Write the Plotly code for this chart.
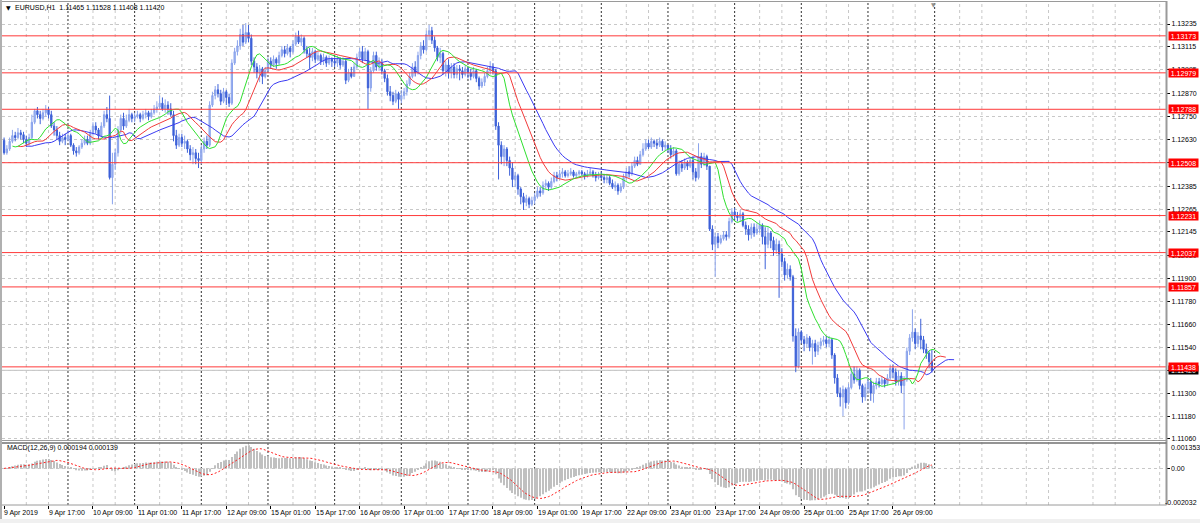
import numpy as np
import plotly.graph_objects as go

# ---------------- data (prices stored as points = 1e-5 above PRICE_BASE) ----------------
SYMBOL = "EURUSD,H1"
PRICE_BASE = 1.11
POINT = 1e-5
FIRST_OPEN_PTS = 1625

close_pts = [
    1560,1580,1620,1650,1640,1665,1655,1630,1610,1640,1720,1780,1760,1740,1770,1785,1760,1700,1680,1650,1620,1640,1630,
    1650,1600,1570,1560,1590,1610,1630,1610,1660,1700,1680,1650,1700,1760,1740,1430,1500,1560,1680,1740,1700,1730,1760,1740,
    1750,1760,1740,1760,1770,1750,1770,1790,1800,1820,1790,1810,1790,1760,1650,1600,1640,1610,1620,1580,1550,1560,1530,1520,
    1580,1620,1600,1810,1860,1890,1870,1830,1880,1850,1820,2030,2090,2120,2180,2140,2190,2160,2040,2010,1980,2000,1960,1990,
    2040,2020,2050,2030,2070,2100,2080,2110,2090,2130,2170,2140,2160,2100,2080,2060,2090,2050,2070,2040,2060,2030,2050,2040,
    2030,2050,2020,2040,1940,1980,1960,2010,2060,2090,2050,2090,1900,1990,2070,2010,2030,1990,1950,1880,1860,1830,1870,1840,
    1860,1880,1920,1960,2010,1980,2070,2120,2100,2180,2200,2150,2110,2060,2080,1990,2020,1980,2010,1970,2000,1990,1970,2000,
    1980,1960,1990,1950,1910,1930,1960,1990,2010,1990,1700,1600,1540,1580,1520,1480,1420,1440,1370,1330,1300,1320,1290,1310,
    1330,1360,1350,1390,1400,1380,1410,1440,1430,1450,1460,1440,1450,1460,1440,1450,1460,1450,1440,1450,1460,1440,1430,1440,
    1430,1420,1430,1400,1380,1390,1360,1380,1430,1460,1450,1490,1520,1500,1550,1580,1610,1590,1620,1610,1600,1620,1590,1600,
    1580,1550,1570,1450,1500,1480,1510,1490,1520,1460,1430,1540,1500,1540,1490,1160,1080,1120,1090,1110,1130,1120,1200,1250,
    1230,1220,1240,1180,1160,1130,1170,1140,1160,1180,1120,1080,1140,1100,1050,1080,1030,990,920,950,910,600,440,620,
    580,560,590,540,560,520,550,570,580,560,580,500,380,300,280,320,250,330,400,370,420,340,280,330,
    360,300,340,360,350,370,350,380,430,410,360,390,340,370,520,590,620,560,600,580,530,510,465,420,
]
high_pts = [
    1640,1600,1640,1680,1670,1690,1680,1670,1650,1660,1760,1790,1800,1780,1790,1810,1800,1780,1720,1700,1670,1660,1660,
    1680,1660,1610,1590,1600,1630,1650,1650,1680,1720,1720,1690,1720,1780,1800,1860,1560,1580,1700,1760,1770,1760,1790,1770,
    1770,1780,1770,1780,1790,1780,1790,1810,1830,1860,1850,1840,1830,1820,1780,1680,1660,1660,1650,1630,1600,1590,1580,1560,
    1600,1640,1650,1830,1880,1910,1920,1890,1900,1890,1870,2050,2110,2150,2210,2230,2240,2230,2180,2060,2030,2020,2010,2010,
    2060,2060,2070,2060,2090,2120,2120,2130,2120,2150,2190,2200,2180,2170,2120,2110,2110,2100,2090,2080,2080,2070,2070,2060,
    2060,2070,2060,2060,2050,2000,2010,2030,2080,2110,2120,2110,2100,2010,2090,2090,2060,2050,2000,1970,1910,1880,1890,1880,
    1890,1900,1940,1980,2030,2040,2090,2140,2150,2200,2230,2220,2170,2120,2110,2090,2040,2050,2030,2030,2020,2020,2010,2020,
    2010,2000,2010,2000,1960,1950,1980,2010,2040,2030,2000,1720,1620,1600,1590,1540,1510,1460,1450,1380,1350,1340,1330,1330,
    1350,1380,1380,1410,1420,1410,1430,1460,1460,1470,1480,1470,1470,1480,1470,1460,1470,1470,1460,1470,1480,1470,1460,1460,
    1460,1450,1450,1440,1420,1410,1400,1400,1450,1480,1490,1510,1540,1540,1570,1610,1630,1630,1640,1630,1630,1640,1630,1620,
    1600,1600,1590,1580,1520,1520,1530,1520,1540,1540,1480,1610,1560,1560,1550,1490,1180,1140,1140,1130,1150,1150,1220,1270,
    1270,1250,1260,1250,1200,1180,1190,1190,1190,1200,1190,1170,1170,1150,1120,1110,1100,1060,1010,980,970,920,640,640,
    630,600,610,600,580,580,570,590,600,600,600,590,510,400,330,340,330,350,430,440,440,430,350,350,
    380,380,360,380,380,390,380,400,450,450,430,420,410,390,540,610,740,640,620,690,600,560,520,528,
]
low_pts = [
    1550,1550,1570,1610,1620,1630,1630,1610,1590,1600,1630,1710,1740,1710,1730,1750,1740,1690,1650,1630,1600,1610,1600,
    1620,1590,1550,1540,1550,1580,1600,1600,1600,1650,1660,1630,1640,1690,1720,1420,1290,1470,1540,1660,1680,1690,1720,1720,
    1720,1740,1720,1730,1740,1730,1740,1760,1770,1790,1780,1770,1760,1750,1620,1580,1590,1590,1580,1560,1520,1500,1500,1480,
    1500,1560,1580,1590,1800,1840,1850,1810,1820,1810,1800,1810,2020,2070,2100,2120,2130,2140,2020,1980,1950,1930,1920,1950,
    1990,2000,2010,2000,2020,2060,2060,2070,2060,2080,2120,2130,2120,2080,2060,2000,2040,2030,2040,2020,2020,2010,2020,2010,
    2010,2010,2000,2010,1920,1930,1950,1960,2000,2050,2030,2040,1790,1880,1980,1990,1990,1970,1930,1860,1830,1810,1820,1790,
    1820,1840,1860,1910,1950,1960,1970,2050,2080,2090,2150,2130,2090,2040,2030,1970,1960,1950,1950,1950,1950,1940,1950,1960,
    1950,1940,1950,1930,1890,1900,1910,1950,1970,1970,1680,1420,1500,1490,1490,1440,1380,1380,1340,1290,1260,1280,1270,1280,
    1290,1320,1330,1340,1370,1360,1370,1400,1410,1420,1430,1430,1430,1440,1430,1430,1440,1440,1420,1430,1440,1430,1410,1420,
    1420,1400,1400,1390,1370,1360,1340,1350,1370,1420,1430,1440,1480,1490,1500,1540,1570,1580,1580,1590,1580,1590,1570,1570,
    1560,1530,1540,1440,1440,1460,1470,1470,1480,1420,1410,1420,1480,1490,1470,1150,1050,910,1060,1080,1100,1100,1110,1190,
    1210,1200,1200,1170,1130,1100,1110,1120,1130,1140,1080,950,1060,1060,1020,1030,800,960,890,900,890,570,410,430,
    560,520,540,520,450,490,500,530,550,540,540,480,350,280,230,180,220,240,320,350,360,320,250,260,
    300,260,250,320,330,340,330,340,370,380,340,340,300,110,360,500,570,530,540,530,510,480,430,408,
]

x_tick_labels = ["9 Apr 2019", "9 Apr 17:00", "10 Apr 09:00", "11 Apr 01:00", "11 Apr 17:00",
                 "12 Apr 09:00", "15 Apr 01:00", "15 Apr 17:00", "16 Apr 09:00", "17 Apr 01:00",
                 "17 Apr 17:00", "18 Apr 09:00", "19 Apr 01:00", "19 Apr 17:00", "22 Apr 09:00",
                 "23 Apr 01:00", "23 Apr 17:00", "24 Apr 09:00", "25 Apr 01:00", "25 Apr 17:00",
                 "26 Apr 09:00"]
day_start_bars = [23, 47, 71, 95, 119, 143, 167, 191, 215, 239, 263, 287, 311, 335]
price_ticks = [1.13235, 1.13115, 1.12995, 1.12870, 1.12750, 1.12630, 1.12510, 1.12385, 1.12265,
               1.12145, 1.12020, 1.11900, 1.11780, 1.11660, 1.11540, 1.11420, 1.11300, 1.11180, 1.11060]
level_prices = [1.13173, 1.12979, 1.12788, 1.12508, 1.12231, 1.12037, 1.11857, 1.11438]
macd_axis_labels = [0.001353, 0.0, -0.002032]
macd_text_values = (0.000194, 0.000139)

# ---------------- derived series ----------------
N = len(close_pts)
assert len(high_pts) == N and len(low_pts) == N, (N, len(high_pts), len(low_pts))
close = PRICE_BASE + np.array(close_pts) * POINT
openp = np.concatenate([[PRICE_BASE + FIRST_OPEN_PTS * POINT], close[:-1]])
high = np.maximum.reduce([PRICE_BASE + np.array(high_pts) * POINT, openp, close])
low = np.minimum.reduce([PRICE_BASE + np.array(low_pts) * POINT, openp, close])
bars = np.arange(N)


def smma(x, n):
    out = np.empty_like(x)
    out[0] = x[0]
    for i in range(1, len(x)):
        out[i] = (out[i - 1] * (n - 1) + x[i]) / n
    return out


def ema(x, n):
    a = 2.0 / (n + 1)
    out = np.empty_like(x)
    out[0] = x[0]
    for i in range(1, len(x)):
        out[i] = a * x[i] + (1 - a) * out[i - 1]
    return out


median = (high + low) / 2
jaw, teeth, lips = smma(median, 13), smma(median, 8), smma(median, 5)
macd_main = ema(close, 12) - ema(close, 26)
macd_signal = np.array([macd_main[max(0, i - 8):i + 1].mean() for i in range(N)])

# ---------------- geometry ----------------
W, H = 1200, 523
ML, MR, MT, MB = 2, 34, 2, 18
PW, PH = W - ML - MR, H - MT - MB
BAR_PX = 2.7778
X0 = -0.75
XR = [X0, X0 + PW / BAR_PX]


def pxx(px):
    return (px - ML) / PW


def pxy(py):
    return (H - MB - py) / PH


FONT = dict(family="Liberation Sans, Arial, sans-serif", size=7, color="#000000")

BULL_FILL, BULL_LINE = "#a3b8f0", "#8aa3ec"
BEAR = "#3c60d8"

fig = go.Figure()
fig.add_trace(go.Candlestick(
    x=bars, open=openp, high=high, low=low, close=close,
    increasing=dict(fillcolor=BULL_FILL, line=dict(color=BULL_LINE, width=1)),
    decreasing=dict(fillcolor=BEAR, line=dict(color=BEAR, width=1)),
    whiskerwidth=0, showlegend=False, hoverinfo="skip", xaxis="x", yaxis="y"))

for series, shift, color in [(jaw, 8, "#3b3bf2"), (teeth, 5, "#f23b3b"), (lips, 3, "#2fe02f")]:
    fig.add_trace(go.Scatter(x=bars + shift, y=series, mode="lines",
                             line=dict(color=color, width=1), showlegend=False,
                             hoverinfo="skip", xaxis="x", yaxis="y"))

fig.add_trace(go.Bar(x=bars, y=macd_main, width=0.38, marker=dict(color="#c0c0c0", line=dict(width=0)),
                     showlegend=False, hoverinfo="skip", xaxis="x", yaxis="y2"))
fig.add_trace(go.Scatter(x=bars, y=macd_signal, mode="lines",
                         line=dict(color="#ff2020", width=1, dash="2px,2px"),
                         showlegend=False, hoverinfo="skip", xaxis="x", yaxis="y2"))

shapes = []
# light vertical grid every 8 bars (except day multiples)
for b in range(0, int(XR[1]) + 1, 8):
    if b % 24 != 0:
        shapes.append(dict(type="line", xref="x", yref="paper", x0=b, x1=b, y0=0, y1=1,
                           line=dict(color="#c8c8c8", width=1, dash="3px,3px"), layer="below"))
# dark day separators
for b in day_start_bars:
    shapes.append(dict(type="line", xref="x", yref="paper", x0=b, x1=b, y0=0, y1=1,
                       line=dict(color="#303030", width=1, dash="2px,2px"), layer="below"))
# bid line
shapes.append(dict(type="line", xref="paper", yref="y", x0=0, x1=1, y0=close[-1], y1=close[-1],
                   line=dict(color="#c0c0c0", width=1), layer="below"))
# horizontal levels
for lv in level_prices:
    shapes.append(dict(type="line", xref="paper", yref="y", x0=0, x1=1, y0=lv, y1=lv,
                       line=dict(color="#ff3a3a", width=1), layer="above"))
# frame lines
FR = "#9a9a9a"
shapes += [
    dict(type="rect", xref="paper", yref="paper", x0=pxx(0), x1=pxx(2), y0=pxy(523), y1=pxy(0),
         fillcolor="#b0b0b0", line=dict(width=0), layer="above"),
    dict(type="line", xref="paper", yref="paper", x0=pxx(2), x1=pxx(1166.5), y0=pxy(1.5), y1=pxy(1.5),
         line=dict(color=FR, width=1), layer="above"),
    dict(type="line", xref="paper", yref="paper", x0=pxx(1166.5), x1=pxx(1166.5), y0=pxy(505), y1=pxy(1),
         line=dict(color=FR, width=2), layer="above"),
    dict(type="line", xref="paper", yref="paper", x0=pxx(2), x1=pxx(1166.5), y0=pxy(440.5), y1=pxy(440.5),
         line=dict(color=FR, width=1), layer="above"),
    dict(type="line", xref="paper", yref="paper", x0=pxx(2), x1=pxx(1166.5), y0=pxy(443), y1=pxy(443),
         line=dict(color="#707070", width=1.5), layer="above"),
    dict(type="line", xref="paper", yref="paper", x0=pxx(2), x1=pxx(1166.5), y0=pxy(505), y1=pxy(505),
         line=dict(color=FR, width=1), layer="above"),
    dict(type="rect", xref="paper", yref="paper", x0=pxx(0), x1=pxx(1200), y0=pxy(523), y1=pxy(519),
         fillcolor="#f0f0f0", line=dict(width=0), layer="above"),
]

ann = []
# title
ann.append(dict(xref="paper", yref="paper", x=pxx(4), y=pxy(7), xanchor="left", yanchor="middle",
                text="▼", showarrow=False, font=dict(family="DejaVu Sans", size=6, color="#000")))
ann.append(dict(xref="paper", yref="paper", x=pxx(13), y=pxy(7), xanchor="left", yanchor="middle",
                text=f"{SYMBOL}  {openp[-1]:.5f} {high[-1]:.5f} {low[-1]:.5f} {close[-1]:.5f}",
                showarrow=False, font=FONT))
# MACD caption
ann.append(dict(xref="paper", yref="paper", x=pxx(5), y=pxy(448), xanchor="left", yanchor="middle",
                text=f"MACD(12,26,9) {macd_text_values[0]:.6f} {macd_text_values[1]:.6f}",
                showarrow=False, font=FONT))
# MACD axis labels
for v, py in zip(macd_axis_labels, [447, 468.5, 502.5]):
    txt = "0.00" if v == 0 else f"{v:.6f}"
    if v < 0:
        ann.append(dict(xref="paper", yref="paper", x=pxx(1199.5), y=pxy(py), xanchor="right",
                        yanchor="middle", text=txt, showarrow=False, font=FONT))
    else:
        ann.append(dict(xref="paper", yref="paper", x=pxx(1169), y=pxy(py), xanchor="left",
                        yanchor="middle", text=txt, showarrow=False, font=FONT))
# x labels
for k, lab in enumerate(x_tick_labels):
    ann.append(dict(xref="x", yref="paper", x=16 * k - 0.6, y=pxy(513), xanchor="left", yanchor="middle",
                    text=lab, showarrow=False, font=FONT))
# bid label then level labels
ann.append(dict(xref="paper", yref="y", x=pxx(1167.5), y=close[-1], xanchor="left", yanchor="middle",
                text=f"{close[-1]:.5f}", showarrow=False, bgcolor="#000000", width=29, height=8,
                borderpad=0, font=dict(family=FONT["family"], size=7, color="#ffffff")))
for lv in level_prices:
    ann.append(dict(xref="paper", yref="y", x=pxx(1167.5), y=lv, xanchor="left", yanchor="middle",
                    text=f"{lv:.5f}", showarrow=False, bgcolor="#ff0000", width=29, height=8,
                    borderpad=0, font=dict(family=FONT["family"], size=7, color="#ffffff")))
# chart-shift marker
ann.append(dict(xref="x", yref="paper", x=N - 0.5, y=pxy(4), xanchor="center", yanchor="middle",
                text="▼", showarrow=False, font=dict(family="DejaVu Sans", size=6, color="#909090")))

fig.update_layout(
    width=W, height=H, margin=dict(l=ML, r=MR, t=MT, b=MB, pad=0),
    paper_bgcolor="#ffffff", plot_bgcolor="#ffffff", showlegend=False, hovermode=False,
    boxgap=0.35,
    xaxis=dict(domain=[0, 1], range=XR, anchor="y2", showgrid=False, zeroline=False, showline=False,
               rangeslider=dict(visible=False), tickmode="array",
               tickvals=[16 * k for k in range(len(x_tick_labels))], ticks="outside", ticklen=3,
               tickcolor="#000000", tickwidth=1, showticklabels=False),
    yaxis=dict(domain=[pxy(441), 1], range=[1.13235 - (441 - 24) / 19080, 1.13235 + (24 - 2) / 19080],
               side="right", anchor="x", tickmode="array", tickvals=price_ticks,
               ticktext=[f"{v:.5f}" for v in price_ticks], tickfont=FONT, ticks="outside", ticklen=3,
               ticklabelstandoff=0,
               tickcolor="#000000", showgrid=True, gridcolor="#c8c8c8", griddash="3px,3px", gridwidth=1,
               zeroline=False, showline=False),
    yaxis2=dict(domain=[0, pxy(444)], range=[macd_axis_labels[2], macd_axis_labels[0]], side="right",
                anchor="x", tickmode="array", tickvals=[0.0], showticklabels=False, ticks="outside",
                ticklen=3, tickcolor="#000000", showgrid=True, gridcolor="#c8c8c8", griddash="3px,3px",
                zeroline=False, showline=False),
    shapes=shapes, annotations=ann,
)

fig.write_html("out.html", config={"displayModeBar": False},
               post_script="document.body.style.margin='0';document.body.style.overflow='hidden';")
